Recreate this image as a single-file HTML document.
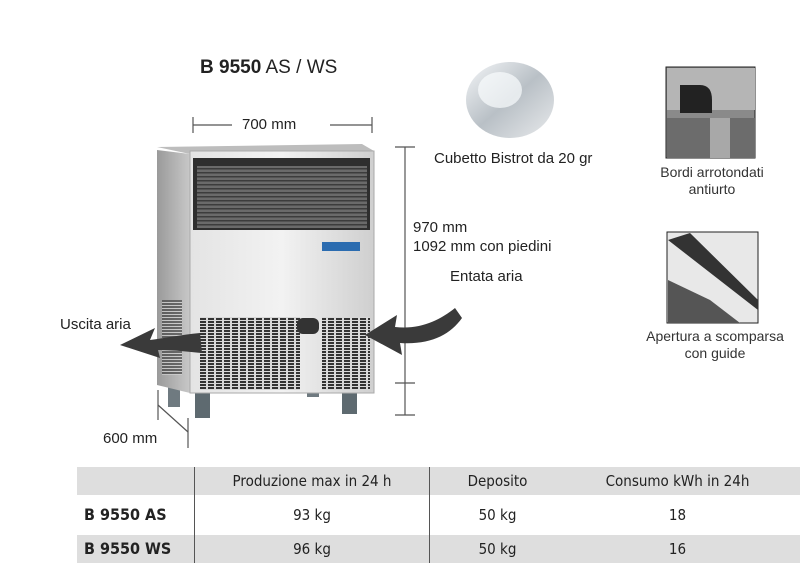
<!DOCTYPE html>
<html><head><meta charset="utf-8"><style>
body{margin:0;width:800px;height:575px;background:#fff;position:relative;overflow:hidden;font-family:"Liberation Sans",sans-serif;color:#222}
.t{position:absolute;white-space:nowrap}
.c{font-family:"DejaVu Sans Condensed","Liberation Sans Narrow","Liberation Sans",sans-serif}
</style></head><body>
<div class="t" style="left:200px;top:57px;font-size:19px"><b>B 9550</b> AS / WS</div>

<svg width="800" height="575" style="position:absolute;left:0;top:0">
<defs>
<linearGradient id="g1" x1="0" x2="1"><stop offset="0" stop-color="#e4e4e4"/><stop offset=".5" stop-color="#f2f2f2"/><stop offset="1" stop-color="#cfcfcf"/></linearGradient>
<linearGradient id="g2" x1="0" x2="1"><stop offset="0" stop-color="#9a9a9a"/><stop offset="1" stop-color="#c8c8c8"/></linearGradient>
<linearGradient id="ice" x1="0" y1="0" x2="1" y2="1"><stop offset="0" stop-color="#f4f6f8"/><stop offset=".5" stop-color="#b9c0c6"/><stop offset="1" stop-color="#e8eaec"/></linearGradient>
<pattern id="lv" width="8" height="3" patternUnits="userSpaceOnUse"><rect width="8" height="3" fill="#d8d8d8"/><rect width="6" height="2" fill="#333"/></pattern>
<pattern id="lv2" width="6" height="3" patternUnits="userSpaceOnUse"><rect width="6" height="3" fill="#d8d8d8"/><rect width="6" height="2" fill="#333"/></pattern>
<pattern id="gr" width="20" height="4" patternUnits="userSpaceOnUse"><rect width="20" height="4" fill="#6a6a6a"/><rect width="20" height="1.5" fill="#3c3c3c"/></pattern>
</defs>
<g stroke="#555" stroke-width="1.2" fill="none">
<line x1="193" y1="125" x2="232" y2="125"/><line x1="330" y1="125" x2="372" y2="125"/>
<line x1="193" y1="117" x2="193" y2="133"/><line x1="372" y1="117" x2="372" y2="133"/>
<line x1="405" y1="147" x2="405" y2="415"/>
<line x1="395" y1="147" x2="415" y2="147"/><line x1="395" y1="383" x2="415" y2="383"/><line x1="395" y1="415" x2="415" y2="415"/>
<line x1="158" y1="390" x2="158" y2="420"/><line x1="158" y1="405" x2="188" y2="432"/><line x1="188" y1="418" x2="188" y2="448"/>
</g>
<rect x="168" y="385" width="12" height="22" fill="#6f7a80"/>
<rect x="307" y="385" width="12" height="12" fill="#6f7a80"/>
<rect x="195" y="388" width="15" height="30" fill="#5e6a70"/>
<rect x="342" y="388" width="15" height="26" fill="#5e6a70"/>
<polygon points="157,150 190,154 190,393 157,385" fill="url(#g2)"/>
<polygon points="157,147 362,144 374,151 190,154" fill="#bdbdbd"/>
<rect x="190" y="151" width="184" height="242" fill="url(#g1)" stroke="#aaa"/>
<rect x="193" y="158" width="177" height="72" fill="#2e2e2e"/>
<rect x="197" y="166" width="170" height="62" fill="url(#gr)"/>
<rect x="322" y="242" width="38" height="9" fill="#2b6cb0"/>
<rect x="200" y="317" width="100" height="73" fill="url(#lv)"/>
<rect x="322" y="317" width="48" height="73" fill="url(#lv)"/>
<rect x="162" y="300" width="20" height="75" fill="url(#lv2)" opacity=".6"/>
<rect x="297" y="318" width="22" height="16" rx="6" fill="#333"/>
<path d="M200,333 C180,335 165,338 150,340 L155,328 L120,345 L160,358 L158,350 C175,350 190,352 202,353 Z" fill="#3a3a3a"/>
<path d="M455,308 C440,320 420,330 395,327 L397,315 L365,335 L402,355 L400,343 C430,345 450,335 462,318 Z" fill="#3a3a3a"/>
<ellipse cx="510" cy="100" rx="44" ry="38" fill="url(#ice)"/>
<ellipse cx="500" cy="90" rx="22" ry="18" fill="#fafcfd" opacity=".7"/>
<rect x="666" y="67" width="89" height="91" fill="#8a8a8a" stroke="#222"/>
<rect x="667" y="68" width="88" height="42" fill="#b5b5b5"/>
<path d="M680,85 L700,85 Q712,85 712,100 L712,113 L680,113 Z" fill="#222"/>
<rect x="667" y="118" width="88" height="40" fill="#6c6c6c"/>
<rect x="710" y="118" width="20" height="40" fill="#a8a8a8"/>
<rect x="667" y="232" width="91" height="91" fill="#e8e8e8" stroke="#222"/>
<polygon points="668,240 690,233 758,300 758,310" fill="#333"/>
<polygon points="668,280 710,300 740,323 668,323" fill="#555"/>
</svg>

<div class="t" style="left:242px;top:116px;font-size:15px">700 mm</div>
<div class="t" style="left:434px;top:150px;font-size:15px">Cubetto Bistrot da 20 gr</div>
<div class="t" style="left:654px;top:164px;font-size:14px;text-align:center;width:116px;line-height:17px;color:#333">Bordi arrotondati<br>antiurto</div>
<div class="t" style="left:413px;top:218px;font-size:15px;line-height:19px">970 mm<br>1092 mm con piedini</div>
<div class="t" style="left:450px;top:268px;font-size:15px">Entata aria</div>
<div class="t" style="left:640px;top:328px;font-size:14px;text-align:center;width:150px;line-height:17px;color:#333">Apertura a scomparsa<br>con guide</div>
<div class="t" style="left:60px;top:316px;font-size:15px">Uscita aria</div>
<div class="t" style="left:103px;top:430px;font-size:15px">600 mm</div>

<div style="position:absolute;left:77px;top:467px;width:723px;height:28px;background:#dedede"></div>
<div style="position:absolute;left:77px;top:535px;width:723px;height:28px;background:#dedede"></div>
<div style="position:absolute;left:194px;top:467px;width:1px;height:96px;background:#555"></div>
<div style="position:absolute;left:429px;top:467px;width:1px;height:96px;background:#555"></div>
<div class="t c" style="left:195px;width:234px;top:472px;font-size:15px;text-align:center">Produzione max in 24 h</div>
<div class="t c" style="left:430px;width:135px;top:472px;font-size:15px;text-align:center">Deposito</div>
<div class="t c" style="left:565px;width:225px;top:472px;font-size:15px;text-align:center">Consumo kWh in 24h</div>
<div class="t c" style="left:84px;top:505px;font-size:16px;font-weight:bold">B 9550 AS</div>
<div class="t c" style="left:84px;top:539px;font-size:16px;font-weight:bold">B 9550 WS</div>
<div class="t c" style="left:195px;width:234px;top:506px;font-size:15px;text-align:center">93 kg</div>
<div class="t c" style="left:430px;width:135px;top:506px;font-size:15px;text-align:center">50 kg</div>
<div class="t c" style="left:565px;width:225px;top:506px;font-size:15px;text-align:center">18</div>
<div class="t c" style="left:195px;width:234px;top:540px;font-size:15px;text-align:center">96 kg</div>
<div class="t c" style="left:430px;width:135px;top:540px;font-size:15px;text-align:center">50 kg</div>
<div class="t c" style="left:565px;width:225px;top:540px;font-size:15px;text-align:center">16</div>
</body></html>
